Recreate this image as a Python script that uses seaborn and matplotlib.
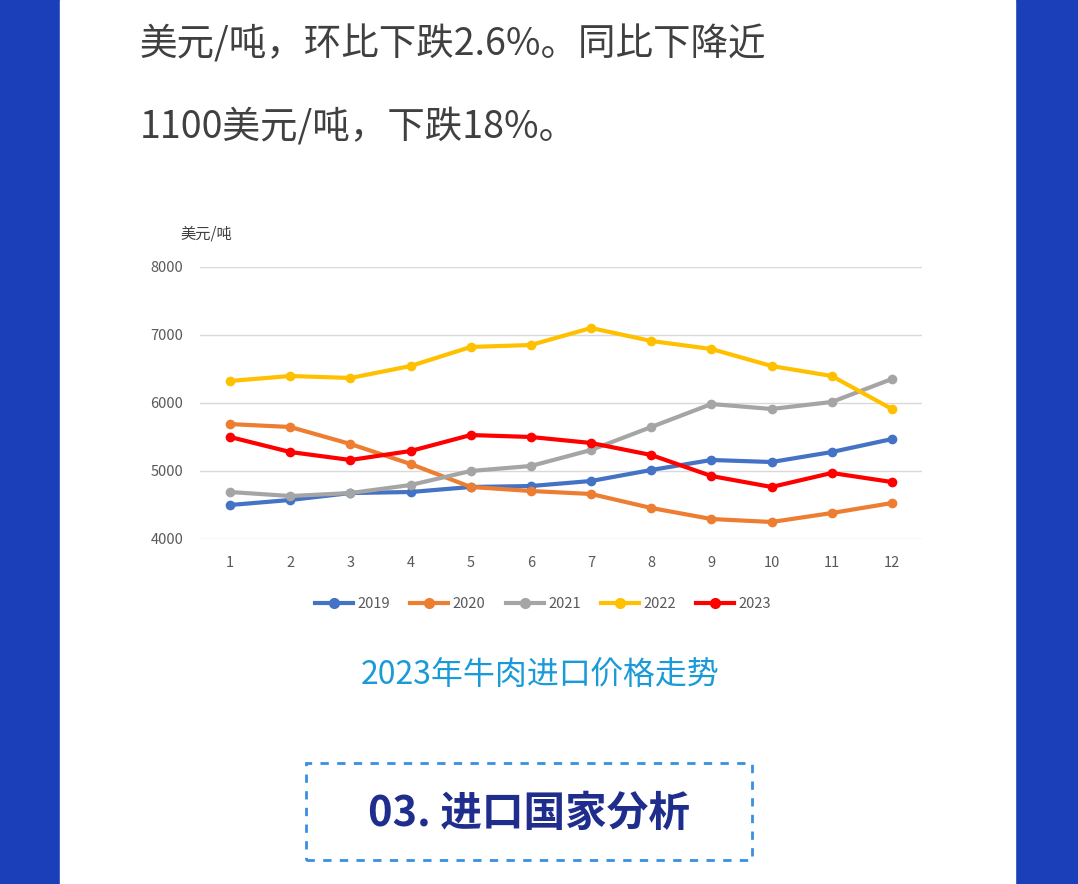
import matplotlib
matplotlib.use("Agg")
import matplotlib.pyplot as plt
import matplotlib.font_manager as fm
import seaborn as sns
import pandas as pd
from matplotlib.patches import Rectangle
from matplotlib.lines import Line2D
import glob

cjk_name = None
for f in fm.findSystemFonts() + glob.glob("/usr/share/fonts/**/*.tt*", recursive=True) + glob.glob("/usr/share/fonts/**/*.otf", recursive=True):
    if "CJK" in f or "cjk" in f:
        try:
            fm.fontManager.addfont(f)
        except Exception:
            pass
names = {f.name for f in fm.fontManager.ttflist}
for n in ["Noto Sans CJK SC", "Noto Sans CJK JP", "Noto Sans CJK TC", "Noto Sans CJK KR", "Noto Sans SC"]:
    if n in names:
        cjk_name = n
        break
if cjk_name is None:
    for n in names:
        if "CJK" in n:
            cjk_name = n
            break
plt.rcParams["font.family"] = [cjk_name or "DejaVu Sans", "DejaVu Sans"]

months = list(range(1, 13))
v2019 = [4500, 4574, 4676, 4691, 4765, 4779, 4853, 5015, 5162, 5132, 5279, 5470]
v2020 = [5690, 5647, 5397, 5103, 4765, 4706, 4662, 4456, 4294, 4250, 4382, 4529]
v2021 = [4691, 4632, 4676, 4794, 5000, 5074, 5309, 5647, 5985, 5912, 6015, 6353]
v2022 = [6324, 6397, 6368, 6544, 6824, 6853, 7103, 6912, 6794, 6544, 6397, 5912]
v2023 = [5500, 5279, 5162, 5294, 5529, 5500, 5412, 5235, 4926, 4765, 4971, 4838]
years = ["2019", "2020", "2021", "2022", "2023"]
yticks = [4000, 5000, 6000, 7000, 8000]

rows = []
for y, vals in zip(years, [v2019, v2020, v2021, v2022, v2023]):
    for m, v in zip(months, vals):
        rows.append({"month": m, "price": v, "year": y})
df = pd.DataFrame(rows)
palette = {"2019": "#4472C4", "2020": "#ED7D31", "2021": "#A5A5A5", "2022": "#FFC000", "2023": "#FF0000"}

fig = plt.figure(figsize=(10.78, 8.84), dpi=100)
fig.patches.append(Rectangle((0, 0), 1, 1, transform=fig.transFigure, color="#1A3FB8", zorder=-10))
fig.patches.append(Rectangle((60/1078, 0), (1015-60)/1078, 1, transform=fig.transFigure, color="white", zorder=-9))

fig.text(140/1078, 1-45/884, "美元/吨，环比下跌2.6%。同比下降近", fontsize=27, color="#404040", va="center")
fig.text(140/1078, 1-127/884, "1100美元/吨，下跌18%。", fontsize=27, color="#404040", va="center")

ax = fig.add_axes([200/1078, 1-539/884, 722/1078, 272/884])
sns.lineplot(data=df, x="month", y="price", hue="year", palette=palette, marker="o",
             markersize=7, markeredgewidth=0, linewidth=3, ax=ax, legend=False)
ax.set_xlim(0.5, 12.5)
ax.set_ylim(4000, 8000)
ax.set_xticks(months)
ax.set_yticks(yticks)
ax.tick_params(length=0, labelsize=10.5, colors="#595959", pad=12)
ax.yaxis.grid(True, color="#D9D9D9", linewidth=1)
for s in ax.spines.values():
    s.set_visible(False)
ax.set_xlabel("")
ax.set_ylabel("")
fig.text(180/1078, 1-234/884, "美元/吨", fontsize=11, color="#404040", va="center")

handles = [Line2D([0], [0], color=palette[y], marker="o", linewidth=3, markersize=7) for y in years]
fig.legend(handles, years, loc="center", bbox_to_anchor=(543/1078, 1-604/884), ncol=5,
           frameon=False, fontsize=10.5, handlelength=2.6, handletextpad=0.3, columnspacing=1.4,
           labelcolor="#595959")

fig.text(540/1078, 1-675/884, "2023年牛肉进口价格走势", fontsize=23, color="#1A9AD6", ha="center", va="center")

fig.patches.append(Rectangle((306/1078, 1-860/884), (752-306)/1078, 97/884, transform=fig.transFigure,
                             fill=False, edgecolor="#3A8FE0", linestyle=(0, (3, 3)), linewidth=2))
fig.text(529/1078, 1-814/884, "03. 进口国家分析", fontsize=30, fontweight="bold", color="#1F2E8C",
         ha="center", va="center")

fig.savefig("out.png", dpi=100)
